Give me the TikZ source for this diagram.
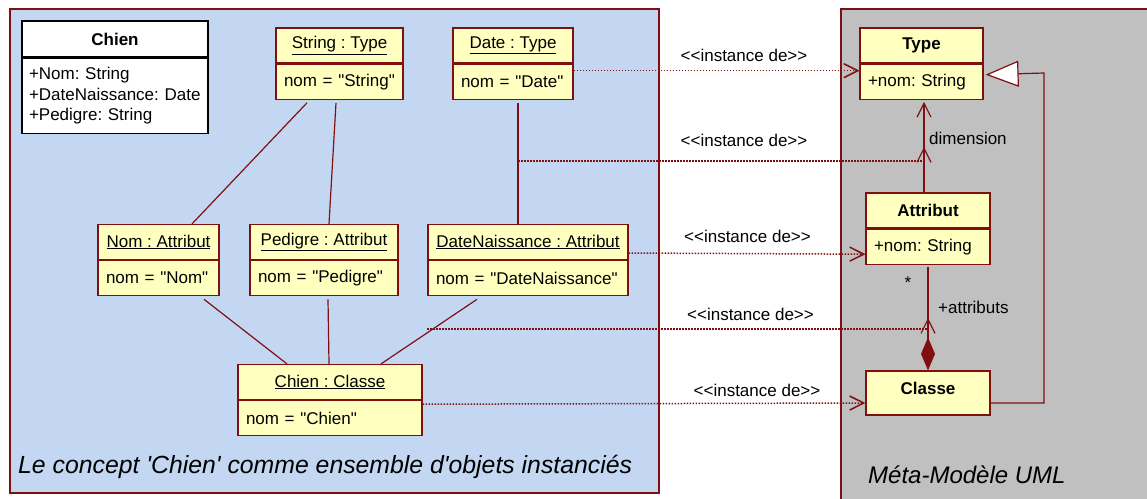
\documentclass[tikz,border=0pt]{standalone}
\usepackage{fontspec}
\newfontfamily\umlfont{Liberation Sans}
\usetikzlibrary{arrows.meta}

\definecolor{umlred}{RGB}{128,16,16}
\definecolor{umlyellow}{RGB}{255,255,192}
\definecolor{pkgblue}{RGB}{195,215,243}
\definecolor{pkggray}{RGB}{192,192,192}
\newcommand\umlsize{\fontsize{17}{20.5}\selectfont\frenchspacing}

\tikzset{
  pkg/.style={draw=umlred, line width=1.3pt},
  box/.style={draw=umlred, fill=umlyellow, line width=1.2pt, inner sep=0pt, minimum height=35pt, font=\umlfont\umlsize},
  val/.style={box, anchor=north, inner xsep=8pt, text width=#1, align=left},
  lnk/.style={umlred, line width=1.2pt},
  dep/.style={umlred, line width=1.5pt, dash pattern=on 1.5pt off 1.5pt},
  opn/.style={-{Straight Barb[length=14pt,width=14pt]}},
  lbl/.style={font=\umlfont\umlsize, inner sep=1pt},
  ptitle/.style={font=\umlfont\fontsize{24}{28}\selectfont\itshape, anchor=west, inner sep=0pt}
}

\begin{document}
\begin{tikzpicture}[x=1pt, y=-1pt]
  \useasboundingbox (0,0) rectangle (1147,498);
  % packages
  \draw[pkg, fill=pkgblue] (10,9) rectangle (659,493);
  \draw[pkg, fill=pkggray] (841,9) rectangle (1160,510);
  \node[ptitle, font=\umlfont\fontsize{24.8}{28}\selectfont\itshape] (objTitle) at (18,467) {Le concept \textquotesingle Chien\textquotesingle{} comme ensemble d\textquotesingle objets instanciés};
  \node[ptitle] (metaTitle) at (868,475) {Méta-Modèle UML};

  % class Chien
  \node[box, fill=white, draw=black, minimum width=186pt, minimum height=36pt, font=\umlfont\umlsize\bfseries] (chienH) at (115,39) {Chien};
  \node[val=172pt, fill=white, draw=black, inner xsep=7pt, minimum height=75pt] (chienA) at (chienH.south) {+Nom: String\\+DateNaissance: Date\\+Pedigre: String};

  % objects
  \node[box, minimum width=127pt] (strT) at (339.5,45.5) {\underline{String : Type}};
  \node[val=111pt] (strTv) at (strT.south) {nom = "String"};
  \node[box, minimum width=120pt] (dtT) at (513,45.5) {\underline{Date : Type}};
  \node[val=104pt] (dtTv) at (dtT.south) {nom = "Date"};
  \node[box, minimum width=121pt] (nomA) at (158.5,242) {\underline{Nom : Attribut}};
  \node[val=105pt] (nomAv) at (nomA.south) {nom = "Nom"};
  \node[box, minimum width=148pt] (pedA) at (324,242) {\underline{Pedigre : Attribut}};
  \node[val=132pt] (pedAv) at (pedA.south) {nom = "Pedigre"};
  \node[box, minimum width=200pt] (dnA) at (528,242) {\underline{DateNaissance : Attribut}};
  \node[val=184pt] (dnAv) at (dnA.south) {nom = "DateNaissance"};
  \node[box, minimum width=184pt] (chC) at (330,382) {\underline{Chien : Classe}};
  \node[val=168pt] (chCv) at (chC.south) {nom = "Chien"};

  \foreach \a/\ax/\b/\bx in {strTv/-32.5/nomA/33.5, strTv/-3.5/pedA/5, dtTv/5/dnA/-10,
                             nomAv/45.5/chC/-43, pedAv/4/chC/-1, dnAv/-51/chC/51}
    \draw[lnk] ([xshift=\ax pt, yshift=-3pt]\a.south) -- ([xshift=\bx pt]\b.north);

  % meta-model
  \node[box, minimum width=123pt, font=\umlfont\umlsize\bfseries] (typ) at (921.5,45.5) {Type};
  \node[val=107pt] (typv) at (typ.south) {+nom: String};
  \node[box, minimum width=124pt, font=\umlfont\umlsize\bfseries] (attA) at (928,210.5) {Attribut};
  \node[val=108pt] (attAv) at (attA.south) {+nom: String};
  \node[box, minimum width=124pt, minimum height=44pt, text height=12pt, text depth=9pt, font=\umlfont\umlsize\bfseries] (cls) at (928,393) {Classe};

  \draw[lnk, opn] ([xshift=-4pt]attA.north) -- ([xshift=2.5pt, yshift=-2pt]typv.south);
  \draw[lnk, {Diamond[length=33pt,width=14pt]}-] (cls.north) -- ([yshift=-2pt]attAv.south);
  \coordinate (genC) at (1044,73);
  \draw[lnk, -{Triangle[length=33pt,width=26pt,fill=white]}] ([yshift=-10pt]cls.east) -| (genC) -- ([xshift=2pt, yshift=7pt]typv.east);
  \node[lbl, anchor=west] (dimL) at (928,138) {dimension};
  \node[lbl] (mult) at (908,283) {*};
  \node[lbl, anchor=west] (roleL) at (937,307) {+attributs};

  % instance de
  \coordinate (dimS) at (518,161);
  \coordinate (dimE) at (924,161);
  \coordinate (compS) at (427,329);
  \coordinate (compE) at (928,329);
  \draw[dep, opn] ([yshift=11pt]dtTv.east) -- ([yshift=11pt]typv.west);
  \draw[dep] (dimS) -- (dimE);
  \draw[lnk, opn] (dimE) -- ++(0,-14);
  \draw[dep, opn] ([yshift=-11pt]dnA.east) -- ([yshift=-7.5pt]attAv.west);
  \draw[dep] (compS) -- (compE);
  \draw[lnk, opn] (compE) -- ++(0,-11);
  \draw[dep, opn] ([yshift=14pt]chCv.east) -- ([yshift=-10pt]cls.west);
  \node[lbl] (inst1) at (744,55) {<<instance de>>};
  \node[lbl] (inst2) at (744,140) {<<instance de>>};
  \node[lbl] (inst3) at (747.5,236) {<<instance de>>};
  \node[lbl] (inst4) at (750.5,314) {<<instance de>>};
  \node[lbl] (inst5) at (757,390) {<<instance de>>};
\end{tikzpicture}
\end{document}
